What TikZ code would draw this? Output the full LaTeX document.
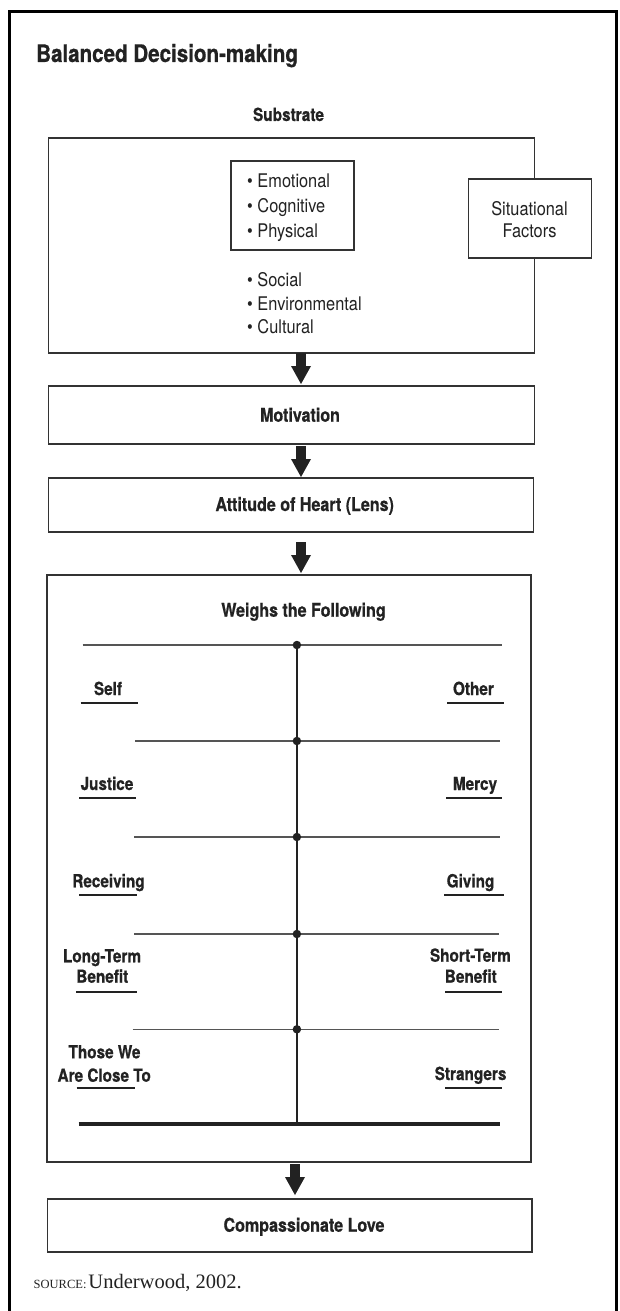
\documentclass[tikz,border=0pt]{standalone}
\usepackage{fontspec}
\setmainfont{TeX Gyre Heros}[FakeStretch=0.87]
\newfontfamily\cnd{TeX Gyre Heros}[FakeStretch=0.85,BoldFeatures={FakeBold=0.7}]
\newfontfamily\srcfont{Liberation Serif}
\usetikzlibrary{arrows.meta}
\definecolor{ink}{HTML}{222222}
\definecolor{boxline}{HTML}{333333}
\definecolor{rulegray}{HTML}{555555}
\begin{document}
\begin{tikzpicture}[x=1pt,y=-1pt,
  box/.style={draw=boxline,line width=1.3pt,fill=white,inner sep=0pt,outer sep=0pt},
  head/.style={font=\cnd\fontsize{18.9}{22}\selectfont\bfseries,text=ink,inner sep=0pt,anchor=base},
  item/.style={font=\fontsize{18.8}{22}\selectfont,text=ink,inner sep=0pt,anchor=base west},
  sitlbl/.style={font=\fontsize{18.8}{22}\selectfont,text=ink,inner sep=0pt,anchor=base},
  side/.style={font=\cnd\fontsize{18}{20}\selectfont\bfseries,text=ink,inner sep=0pt,anchor=base},
  bigarrow/.style={draw=ink,line width=9.5pt,-{Triangle[width=20pt,length=18pt,line width=0pt]}},
  beam/.style={draw=rulegray,line width=1.2pt},
  stem/.style={draw=ink,line width=1.3pt},
  uline/.style={draw=ink,line width=1.8pt},
  pivot/.style={fill=ink,circle,inner sep=0pt,minimum size=8.5pt}
]
\useasboundingbox (0,0) rectangle (620,1311);
\fill[white] (0,0) rectangle (620,1311);
% outer frame
\draw[black,line width=2.4pt,line join=miter] (9.5,1325) -- (9.5,11.5) -- (616.5,11.5) -- (616.5,1325);
% title
\node[font=\cnd\fontsize{24.2}{28}\selectfont\bfseries,text=ink,inner sep=0pt,anchor=base west] (title) at (36,62) {Balanced Decision-making};
% substrate
\node[head,font=\cnd\fontsize{18.1}{20}\selectfont\bfseries] (substrate) at (288.5,121) {Substrate};
\node[box,minimum width=486pt,minimum height=215pt] (sub) at (291.5,245.5) {};
\node[box,minimum width=123pt,minimum height=89pt] (inner) at (292.5,205.5) {};
\node[box,minimum width=123pt,minimum height=79pt] (sit) at (530,218.5) {};
\node[sitlbl] (sit1) at (529.5,215) {Situational};
\node[sitlbl] (sit2) at (529.5,237) {Factors};
\node[item] (emo) at (247,187) {• Emotional};
\node[item] (cog) at (247,212) {• Cognitive};
\node[item] (phy) at (247,237) {• Physical};
\node[item] (soc) at (247,286) {• Social};
\node[item] (env) at (247,310) {• Environmental};
\node[item] (cul) at (247,333.5) {• Cultural};
% chain boxes
\node[box,minimum width=486pt,minimum height=58pt] (mot) at (291.5,415) {};
\node[head] (motl) at (300,421.7) {Motivation};
\node[box,minimum width=485pt,minimum height=54pt] (att) at (291,505) {};
\node[head] (attl) at (304.7,511) {Attitude of Heart (Lens)};
\node[box,minimum width=484pt,minimum height=587pt] (wei) at (289,868.5) {};
\node[head] (weil) at (303.5,616.7) {Weighs the Following};
\node[box,minimum width=484.5pt,minimum height=53pt] (com) at (289.75,1225.5) {};
\node[head] (coml) at (304,1231.7) {Compassionate Love};
% arrows
\coordinate (ax) at (301,0);
\coordinate (bx) at (295,0);
\draw[bigarrow,shorten >=2pt] (sub.south -| ax) -- (mot.north -| ax);
\draw[bigarrow,shorten <=2pt,shorten >=1pt] (mot.south -| ax) -- (att.north -| ax);
\draw[bigarrow,shorten <=10pt,shorten >=2pt] (att.south -| ax) -- (wei.north -| ax);
\draw[bigarrow,shorten <=2pt,shorten >=4pt] (wei.south -| bx) -- (com.north -| bx);
% balance
\draw[beam] (82.7,645) -- (501.6,645);
\draw[beam] (135.1,741) -- (500,741);
\draw[beam] (134.3,837) -- (499.6,837);
\draw[beam] (134.3,934) -- (498.8,934);
\draw[beam] (132.7,1029.3) -- (498.8,1029.3);
\draw[ink,line width=3.5pt] (78.7,1124) -- (499.6,1124);
\coordinate (base) at (296.9,1124);
\node[pivot] (p1) at (296.9,645) {};
\node[pivot] (p2) at (296.9,741) {};
\node[pivot] (p3) at (296.9,837) {};
\node[pivot] (p4) at (296.9,934) {};
\node[pivot] (p5) at (296.9,1029.3) {};
\draw[stem] (p1.center) -- (base);
% labels left
\node[side] (self) at (108,695) {Self};
\draw[uline] (80.7,702.7) -- (138.3,702.7);
\node[side] (just) at (107,790) {Justice};
\draw[uline] (79.1,798.3) -- (135.5,798.3);
\node[side] (recv) at (108.5,887.3) {Receiving};
\draw[uline] (79.1,895) -- (137.1,895);
\node[side] (lt1) at (102,962.3) {Long-Term};
\node[side] (lt2) at (102.3,982.7) {Benefit};
\draw[uline] (76,991.7) -- (136.7,991.7);
\node[side] (tw1) at (104.5,1058.3) {Those We};
\node[side] (tw2) at (104.2,1081.7) {Are Close To};
\draw[uline] (76.7,1088.3) -- (135,1088.3);
% labels right
\node[side] (other) at (473.4,695) {Other};
\draw[uline] (447.1,702.7) -- (504,702.7);
\node[side] (mercy) at (475,790) {Mercy};
\draw[uline] (446.3,798.3) -- (502.4,798.3);
\node[side] (giv) at (470.5,887.3) {Giving};
\draw[uline] (444,895) -- (504,895);
\node[side] (st1) at (470.4,961.7) {Short-Term};
\node[side] (st2) at (470.8,982.7) {Benefit};
\draw[uline] (445.2,992.3) -- (501.6,992.3);
\node[side] (str) at (470.6,1080) {Strangers};
\draw[uline] (445.2,1088.3) -- (502.4,1088.3);
% source
\node[inner sep=0pt,anchor=base west,text=ink] (src) at (33.5,1288) {\srcfont{\fontsize{12.5}{14}\selectfont SOURCE:}\hspace{2pt}{\fontsize{20.5}{22}\selectfont Underwood, 2002.}};
\end{tikzpicture}
\end{document}
